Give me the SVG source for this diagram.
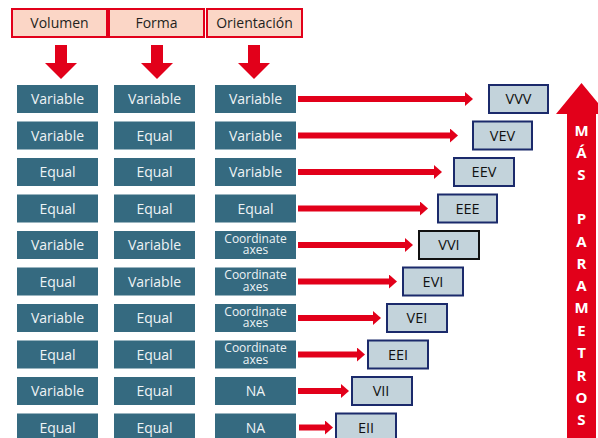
<svg xmlns="http://www.w3.org/2000/svg" width="598" height="438" viewBox="0 0 598 438">
<defs>
<style>
.hdr{fill:#fbd6c6;stroke:#e2001a;stroke-width:2}
.ht{font-family:"Open Sans","Liberation Sans",sans-serif;font-size:14px;fill:#231f20;text-anchor:middle}
.down{fill:#e2001a}
.cell{fill:#356a80}
.ct{font-family:"Open Sans","Liberation Sans",sans-serif;font-size:14px;fill:#eef3f5;text-anchor:middle}
.cs{font-family:"Open Sans","Liberation Sans",sans-serif;font-size:12px;fill:#eef3f5;text-anchor:middle}
.res{fill:#c3d3db;stroke:#1b2a6b;stroke-width:2}
.rt{font-family:"Open Sans","Liberation Sans",sans-serif;font-size:14.5px;fill:#111;text-anchor:middle}
.conn{stroke:#e2001a;stroke-width:6;fill:none}
.big{fill:#e2001a}
.bt{font-family:"Open Sans","Liberation Sans",sans-serif;font-size:15px;font-weight:bold;fill:#fff;text-anchor:middle}
</style>
<marker id="ah" markerUnits="userSpaceOnUse" markerWidth="9" markerHeight="14" refX="0" refY="7" orient="auto">
<path d="M0,0 L8,7 L0,14 Z" fill="#e2001a"/>
</marker>
</defs>
<g id="h-volumen"><rect class="hdr" x="12" y="9" width="95" height="28"/><text class="ht" x="59.5" y="28">Volumen</text><path class="down" d="M55,45 H67 V63 H77 L61,79 L45,63 H55 Z"/></g>
<g id="h-forma"><rect class="hdr" x="109" y="9" width="95" height="28"/><text class="ht" x="156.5" y="28">Forma</text><path class="down" d="M151,45 H163 V63 H173 L157,79 L141,63 H151 Z"/></g>
<g id="h-orientacion"><rect class="hdr" x="207" y="9" width="95" height="28"/><text class="ht" x="254.5" y="28">Orientación</text><path class="down" d="M248,45 H260 V63 H270 L254,79 L238,63 H248 Z"/></g>

<g id="row1"><rect class="cell" x="17" y="85" width="81" height="28"/><text class="ct" x="57.5" y="104">Variable</text><rect class="cell" x="114" y="85" width="81" height="28"/><text class="ct" x="154.5" y="104">Variable</text><rect class="cell" x="215" y="85" width="81" height="28"/><text class="ct" x="255.5" y="104">Variable</text></g>
<g id="row2"><rect class="cell" x="17" y="121.5" width="81" height="28"/><text class="ct" x="57.5" y="140.5">Variable</text><rect class="cell" x="114" y="121.5" width="81" height="28"/><text class="ct" x="154.5" y="140.5">Equal</text><rect class="cell" x="215" y="121.5" width="81" height="28"/><text class="ct" x="255.5" y="140.5">Variable</text></g>
<g id="row3"><rect class="cell" x="17" y="158" width="81" height="28"/><text class="ct" x="57.5" y="177">Equal</text><rect class="cell" x="114" y="158" width="81" height="28"/><text class="ct" x="154.5" y="177">Equal</text><rect class="cell" x="215" y="158" width="81" height="28"/><text class="ct" x="255.5" y="177">Variable</text></g>
<g id="row4"><rect class="cell" x="17" y="194.5" width="81" height="28"/><text class="ct" x="57.5" y="213.5">Equal</text><rect class="cell" x="114" y="194.5" width="81" height="28"/><text class="ct" x="154.5" y="213.5">Equal</text><rect class="cell" x="215" y="194.5" width="81" height="28"/><text class="ct" x="255.5" y="213.5">Equal</text></g>
<g id="row5"><rect class="cell" x="17" y="231" width="81" height="28"/><text class="ct" x="57.5" y="250">Variable</text><rect class="cell" x="114" y="231" width="81" height="28"/><text class="ct" x="154.5" y="250">Variable</text><rect class="cell" x="215" y="231" width="81" height="28"/><text class="cs" x="255.5" y="242.5">Coordinate</text><text class="cs" x="255.5" y="254">axes</text></g>
<g id="row6"><rect class="cell" x="17" y="267.5" width="81" height="28"/><text class="ct" x="57.5" y="286.5">Equal</text><rect class="cell" x="114" y="267.5" width="81" height="28"/><text class="ct" x="154.5" y="286.5">Variable</text><rect class="cell" x="215" y="267.5" width="81" height="28"/><text class="cs" x="255.5" y="279">Coordinate</text><text class="cs" x="255.5" y="290.5">axes</text></g>
<g id="row7"><rect class="cell" x="17" y="304" width="81" height="28"/><text class="ct" x="57.5" y="323">Variable</text><rect class="cell" x="114" y="304" width="81" height="28"/><text class="ct" x="154.5" y="323">Equal</text><rect class="cell" x="215" y="304" width="81" height="28"/><text class="cs" x="255.5" y="315.5">Coordinate</text><text class="cs" x="255.5" y="327">axes</text></g>
<g id="row8"><rect class="cell" x="17" y="340.5" width="81" height="28"/><text class="ct" x="57.5" y="359.5">Equal</text><rect class="cell" x="114" y="340.5" width="81" height="28"/><text class="ct" x="154.5" y="359.5">Equal</text><rect class="cell" x="215" y="340.5" width="81" height="28"/><text class="cs" x="255.5" y="352">Coordinate</text><text class="cs" x="255.5" y="363.5">axes</text></g>
<g id="row9"><rect class="cell" x="17" y="377" width="81" height="28"/><text class="ct" x="57.5" y="396">Variable</text><rect class="cell" x="114" y="377" width="81" height="28"/><text class="ct" x="154.5" y="396">Equal</text><rect class="cell" x="215" y="377" width="81" height="28"/><text class="ct" x="255.5" y="396">NA</text></g>
<g id="row10"><rect class="cell" x="17" y="413.5" width="81" height="28"/><text class="ct" x="57.5" y="432.5">Equal</text><rect class="cell" x="114" y="413.5" width="81" height="28"/><text class="ct" x="154.5" y="432.5">Equal</text><rect class="cell" x="215" y="413.5" width="81" height="28"/><text class="ct" x="255.5" y="432.5">NA</text></g>

<g id="connectors">
<line class="conn" x1="298" y1="99" x2="465" y2="99" marker-end="url(#ah)"/>
<line class="conn" x1="298" y1="135.5" x2="450" y2="135.5" marker-end="url(#ah)"/>
<line class="conn" x1="298" y1="172" x2="434" y2="172" marker-end="url(#ah)"/>
<line class="conn" x1="298" y1="208.5" x2="420" y2="208.5" marker-end="url(#ah)"/>
<line class="conn" x1="298" y1="245" x2="405" y2="245" marker-end="url(#ah)"/>
<line class="conn" x1="298" y1="281.5" x2="389" y2="281.5" marker-end="url(#ah)"/>
<line class="conn" x1="298" y1="318" x2="373" y2="318" marker-end="url(#ah)"/>
<line class="conn" x1="298" y1="354.5" x2="357" y2="354.5" marker-end="url(#ah)"/>
<line class="conn" x1="298" y1="391" x2="341" y2="391" marker-end="url(#ah)"/>
<line class="conn" x1="299" y1="427.5" x2="325" y2="427.5" marker-end="url(#ah)"/>
</g>

<g id="r-vvv"><rect class="res" x="489" y="85" width="59" height="28"/><text class="rt" x="518.5" y="104">VVV</text></g>
<g id="r-vev"><rect class="res" x="473" y="121.5" width="59" height="28"/><text class="rt" x="502.5" y="140.5">VEV</text></g>
<g id="r-eev"><rect class="res" x="454" y="158" width="60" height="28"/><text class="rt" x="484" y="177">EEV</text></g>
<g id="r-eee"><rect class="res" x="438" y="194.5" width="59" height="28"/><text class="rt" x="467.5" y="213.5">EEE</text></g>
<g id="r-vvi"><rect class="res" x="419" y="231" width="60" height="28" style="stroke:#111"/><text class="rt" x="449" y="250">VVI</text></g>
<g id="r-evi"><rect class="res" x="403" y="267.5" width="60" height="28"/><text class="rt" x="433" y="286.5">EVI</text></g>
<g id="r-vei"><rect class="res" x="387" y="304" width="60" height="28"/><text class="rt" x="417" y="323">VEI</text></g>
<g id="r-eei"><rect class="res" x="368" y="340.5" width="60" height="28"/><text class="rt" x="398" y="359.5">EEI</text></g>
<g id="r-vii"><rect class="res" x="352" y="377" width="60" height="28"/><text class="rt" x="381" y="396">VII</text></g>
<g id="r-eii"><rect class="res" x="336" y="413.5" width="60" height="28"/><text class="rt" x="366" y="432.5">EII</text></g>

<g id="mas-parametros">
<path class="big" d="M567,114 H556 L581.5,83 L607,114 H596 V438 H567 Z"/>
<text class="bt" x="581.5" y="135.5">M</text>
<text class="bt" x="581.5" y="157.5">Á</text>
<text class="bt" x="581.5" y="179.5">S</text>
<text class="bt" x="581.5" y="224">P</text>
<text class="bt" x="581.5" y="246.5">A</text>
<text class="bt" x="581.5" y="268.5">R</text>
<text class="bt" x="581.5" y="291">A</text>
<text class="bt" x="581.5" y="313">M</text>
<text class="bt" x="581.5" y="336">E</text>
<text class="bt" x="581.5" y="358">T</text>
<text class="bt" x="581.5" y="380.5">R</text>
<text class="bt" x="581.5" y="402.5">O</text>
<text class="bt" x="581.5" y="424.5">S</text>
</g>
</svg>
